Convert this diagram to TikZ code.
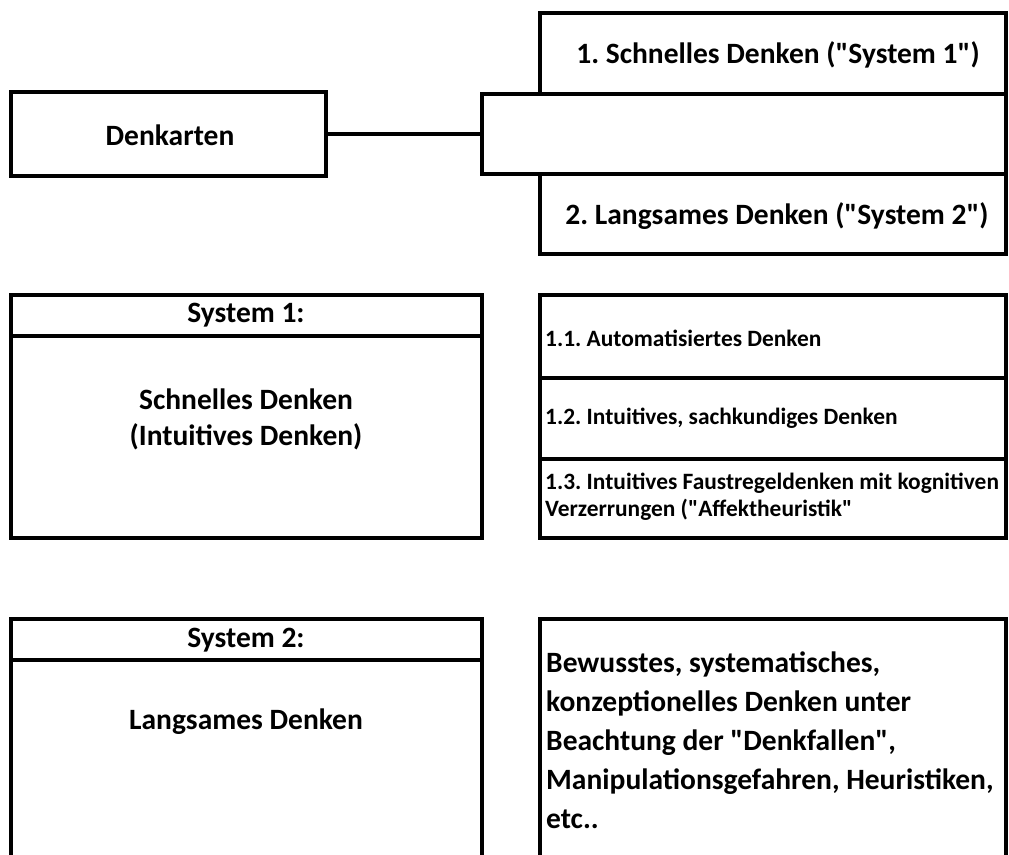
\documentclass[tikz,border=0pt]{standalone}
\usepackage{fontspec}
\setmainfont{Carlito}[Ligatures=TeXOff]
\frenchspacing
\tikzset{
  box/.style={draw, line width=4.5pt, rectangle, inner sep=0pt, outer sep=0pt, anchor=north west},
  sep/.style={line width=4.5pt},
  conn/.style={line width=4.5pt},
  big/.style={font=\fontsize{29.5}{36}\selectfont\bfseries, inner sep=0pt},
  small/.style={font=\fontsize{23.4}{27}\selectfont\bfseries, inner sep=0pt, anchor=west},
}
\begin{document}
\begin{tikzpicture}[x=1pt,y=-1pt]
\clip (0,0) rectangle (1009,854);
\fill[white] (0,0) rectangle (1009,854);
% top group
\node[box, minimum width=466, minimum height=81] (b1) at (540,13) {};
\node[box, minimum width=524, minimum height=80] (mid) at (482,94) {};
\node[box, minimum width=466, minimum height=80] (b2) at (540,174) {};
\node[box, minimum width=315, minimum height=84] (denk) at (11,92) {};
\node[big] (t1) at (778,55) {1. Schnelles Denken ("System 1")};
\node[big] (t2) at (777,216) {2. Langsames Denken ("System 2")};
\node[big] (td) at (170,135) {Denkarten};
\draw[conn] (denk.east) -- (mid.west);
% System 1
\node[box, minimum width=471, minimum height=243] (s1) at (11,295) {};
\draw[sep] (11,336) -- (482,336);
\node[big] (s1h) at (246,315) {System 1:};
\node[big, align=center] (s1t) at (246,419) {Schnelles Denken\\(Intuitives Denken)};
\node[box, minimum width=466, minimum height=243] (l1) at (540,295) {};
\draw[sep] (540,378) -- (1006,378);
\draw[sep] (540,459) -- (1006,459);
\node[small] (i11) at (545,338) {1.1. Automatisiertes Denken};
\node[small] (i12) at (545,418) {1.2. Intuitives, sachkundiges Denken};
\node[small, align=left] (i13) at (545,497) {1.3. Intuitives Faustregeldenken mit kognitiven\\Verzerrungen ("Affektheuristik"};
% System 2
\node[box, minimum width=471, minimum height=260] (s2) at (11,619) {};
\draw[sep] (11,660) -- (482,660);
\node[big] (s2h) at (246,640) {System 2:};
\node[big] (s2t) at (246,722) {Langsames Denken};
\node[box, minimum width=466, minimum height=260] (r2) at (540,619) {};
\node[big, align=left, anchor=west, font=\fontsize{29.5}{39}\selectfont\bfseries] (r2t) at (546,740) {Bewusstes, systematisches,\\konzeptionelles Denken unter\\Beachtung der "Denkfallen",\\Manipulationsgefahren, Heuristiken,\\etc..};
\end{tikzpicture}
\end{document}
